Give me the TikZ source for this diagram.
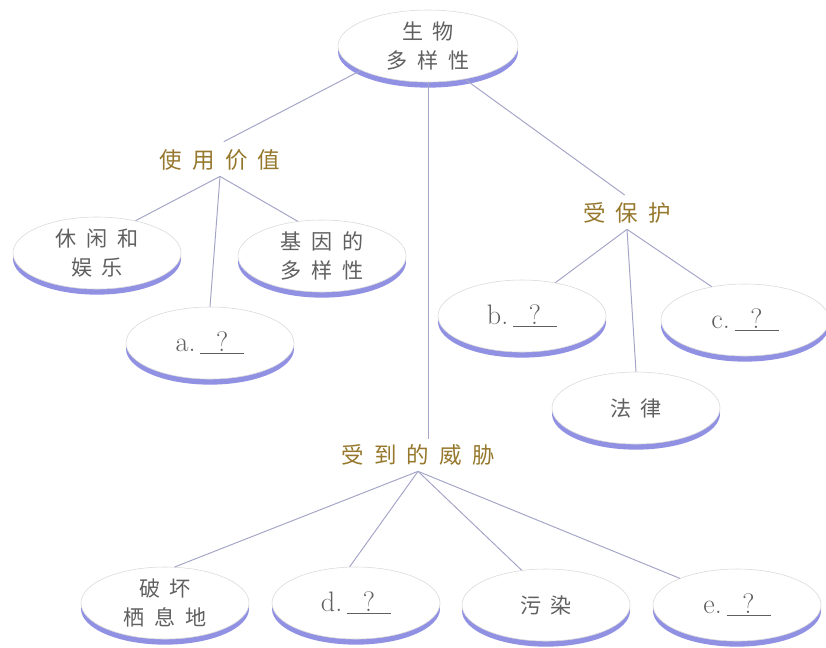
\documentclass[tikz,border=0pt]{standalone}
\usepackage{fontspec}
\newfontfamily\cjk[LetterSpace=45]{Noto Sans CJK SC}
\usetikzlibrary{shapes.geometric, shadows}
\definecolor{diskblue}{RGB}{145,145,228}
\definecolor{headgold}{RGB}{150,120,45}
\definecolor{linkgray}{RGB}{165,165,200}
% blank to fill in
\newcommand{\blank}[1]{{\rmfamily\fontsize{20}{24}\selectfont #1.\,\underline{\makebox[1.1cm]{?}}}}

\begin{document}
\begin{tikzpicture}[
    x=0.025cm, y=-0.025cm,
    disk/.style = {ellipse, draw=gray!30, fill=white, minimum width=4.2cm, minimum height=1.8cm, inner sep=0pt, align=center, text=gray!75!black, font=\cjk\fontsize{15}{21}\selectfont, drop shadow={shadow xshift=0pt, shadow yshift=-4pt, fill=diskblue, opacity=1}},
    head/.style = {text=headgold, font=\cjk\fontsize{16}{20}\selectfont, inner sep=4pt},
    link/.style = {draw=linkgray, line width=0.7pt}
]
\useasboundingbox (0,0) rectangle (826,647);

% --- top ---
\node[disk, minimum width=4.5cm] (bio) at (428,46) {生物\\多样性};

% --- left branch ---
\node[head] (use) at (220,160) {使用价值};
\node[disk] (leisure) at (97,253) {休闲和\\娱乐};
\node[disk] (gene) at (322,256) {基因的\\多样性};
\node[disk] (a) at (210,343) {\blank{a}};

% --- right branch ---
\node[head] (prot) at (627,213) {受保护};
\node[disk] (b) at (522,316) {\blank{b}};
\node[disk] (c) at (745,320) {\blank{c}};
\node[disk] (law) at (636,408) {法律};

% --- bottom branch ---
\node[head] (threat) at (418,455) {受到的威胁};
\node[disk] (hab) at (165,603) {破坏\\栖息地};
\node[disk] (d) at (356,603) {\blank{d}};
\node[disk] (poll) at (546,605) {污染};
\node[disk] (e) at (737,605) {\blank{e}};

% --- links ---
\draw[link, shorten >=3pt] (bio.200) -- (use.north);
\draw[link] (bio.south) -- (bio.south |- threat.north);
\draw[link, shorten >=2pt] (bio.318) -- (prot.north);

\draw[link] (use.south) -- (leisure.40);
\draw[link] (use.south) -- (a.north);
\draw[link] (use.south) -- (gene.125);

\draw[link] (prot.south) -- (b.45);
\draw[link] (prot.south) -- (law.north);
\draw[link] (prot.south) -- (c.135);

\draw[link] (threat.south) -- (hab.75);
\draw[link] (threat.south) -- (d.100);
\draw[link] (threat.south) -- (poll.125);
\draw[link] (threat.south) -- (e.155);

\end{tikzpicture}
\end{document}
